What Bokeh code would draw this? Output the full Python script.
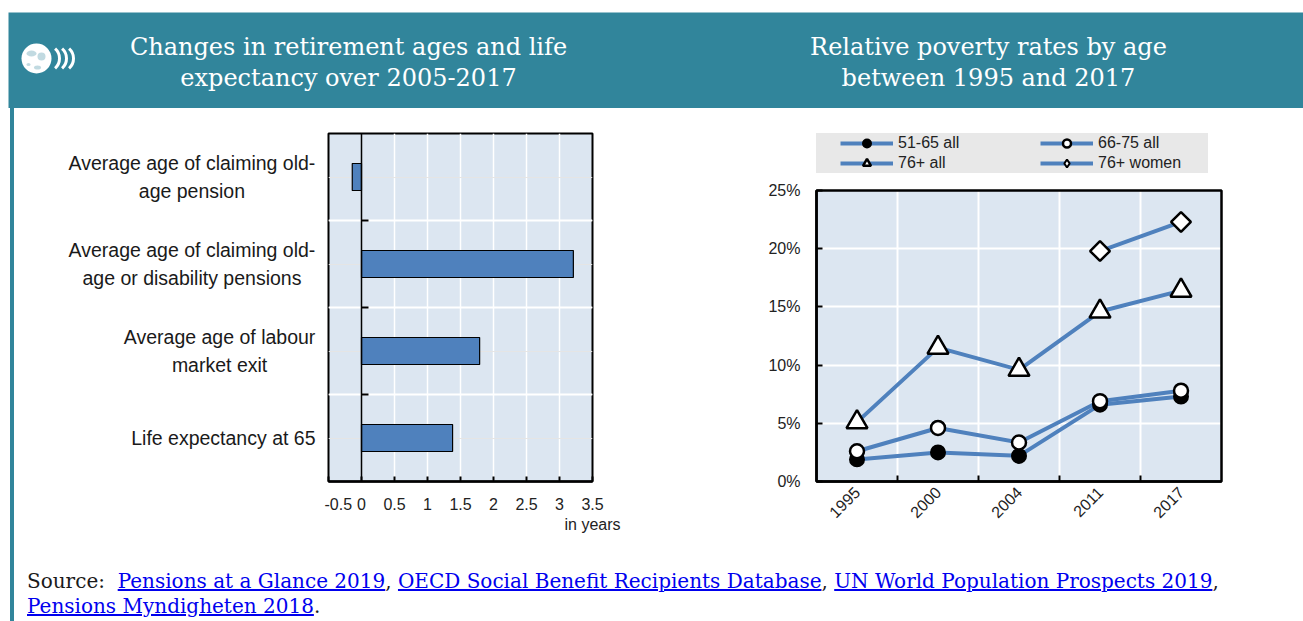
import math
import numpy as np
from bokeh.plotting import figure
from bokeh.layouts import column, row
from bokeh.models import (Range1d, LinearAxis, FixedTicker, Legend, LegendItem, Div,
                          PrintfTickFormatter, Grid)
from bokeh.core.properties import value
from bokeh.embed import file_html
from bokeh.resources import INLINE

# ---------------- data ----------------
bar_categories = ["Average age of claiming old-\nage pension",
                  "Average age of claiming old-\nage or disability pensions",
                  "Average age of labour\nmarket exit",
                  "Life expectancy at 65"]
bar_values = [-0.14, 3.21, 1.79, 1.38]
bar_ticks = [-0.5, 0, 0.5, 1, 1.5, 2, 2.5, 3, 3.5]
bar_tick_labels = ["-0.5", "0", "0.5", "1", "1.5", "2", "2.5", "3", "3.5\nin years"]

years = ["1995", "2000", "2004", "2011", "2017"]
pov_51_65 = [1.9, 2.5, 2.2, 6.6, 7.3]
pov_66_75 = [2.6, 4.6, 3.35, 6.9, 7.8]
pov_76_all = [5.1, 11.5, 9.6, 14.6, 16.4]
pov_76_women = [None, None, None, 19.8, 22.3]
pct_ticks = [0, 5, 10, 15, 20, 25]
series_names = ["51-65 all", "66-75 all", "76+ all", "76+ women"]

title_left = "Changes in retirement ages and life\nexpectancy over 2005-2017"
title_right = "Relative poverty rates by age\nbetween 1995 and 2017"

# ---------------- styles ----------------
TEAL = "#31859B"
PLOTBG = "#DCE6F1"
BLUE = "#4F81BD"
LEGBG = "#E8E8E8"
SANS = "Liberation Sans"
SERIF = "DejaVu Serif"
TOP_B, BOT_B = 25, 79          # shared frame borders of the middle row
FRAME_H = 452 - TOP_B - BOT_B  # 348 px
PCT_H = 291                    # px height of the 0-25% box
Y_TOP = pct_ticks[-1] * FRAME_H / PCT_H

ARIAL = {' ': 278, 'A': 667, 'L': 556, 'a': 556, 'b': 556, 'c': 500, 'd': 556, 'e': 556,
         'f': 278, 'g': 556, 'i': 222, 'k': 500, 'l': 222, 'm': 833, 'n': 556, 'o': 556,
         'p': 556, 'r': 333, 's': 500, 't': 278, 'u': 556, 'v': 500, 'x': 500, 'y': 500,
         '-': 333, '5': 556, '6': 556}


def text_w(s, size):
    return max(sum(ARIAL.get(c, 556) for c in ln) for ln in s.split("\n")) * size / 1000.0


def bare(fig):
    fig.grid.visible = False
    return fig


# ---------------- header ----------------
hdr = bare(figure(width=1303, height=108, x_range=Range1d(0, 1303), y_range=Range1d(0, 108),
                  toolbar_location=None, output_backend="svg", x_axis_location=None,
                  y_axis_location=None, min_border=0, outline_line_color=None,
                  background_fill_color="white", border_fill_color="white", margin=0))
hdr.quad(left=8, right=1303, bottom=0, top=96, fill_color=TEAL, line_color=None)
hdr.text(x=[348, 988], y=[46, 46], text=[title_left, title_right], text_align="center",
         text_baseline="middle", text_color="white", text_font=value(SERIF),
         text_font_size="24px", text_line_height=1.12)
# OECD logo (globe + chevrons)
hdr.circle(x=[36], y=[50], radius=15, fill_color="white", line_color=None)
hdr.ellipse(x=[31, 41, 37, 28], y=[55, 52, 41, 44], width=[10, 8, 7, 4], height=[6, 8, 4, 3],
            fill_color=TEAL, fill_alpha=0.3, line_color=None)
hdr.arc(x=[46, 53, 60], y=[50, 50, 50], radius=13, start_angle=-0.85, end_angle=0.85,
        line_color="white", line_width=3)

# ---------------- left chart ----------------
y_rng = Range1d(len(bar_categories), 0)
centers = [i + 0.5 for i in range(len(bar_categories))]

labfig = bare(figure(width=310, height=452, x_range=Range1d(0, 310), y_range=y_rng,
                     toolbar_location=None, output_backend="svg", x_axis_location=None,
                     y_axis_location=None, min_border_left=0, min_border_right=0,
                     min_border_top=TOP_B, min_border_bottom=BOT_B, outline_line_color=None,
                     background_fill_color="white", border_fill_color="white", margin=0))
labfig.text(x=[301 - text_w(s, 19.5) / 2 for s in bar_categories], y=centers,
            text=bar_categories, text_align="center", text_baseline="middle",
            text_font=value(SANS), text_font_size="19.5px", text_line_height=1.3,
            text_color="#1a1a1a")

pL = figure(width=316, height=452, x_range=Range1d(-0.5, 3.5), y_range=y_rng,
            toolbar_location=None, output_backend="svg", y_axis_location=None,
            min_border_left=4, min_border_right=48, min_border_top=TOP_B,
            min_border_bottom=BOT_B, background_fill_color=PLOTBG, border_fill_color="white",
            outline_line_color="black", outline_line_width=2, margin=0)
pL.xgrid.ticker = FixedTicker(ticks=[t for t in bar_ticks if t not in (-0.5, 0, 3.5)])
pL.xgrid.grid_line_color = "white"
pL.xgrid.grid_line_width = 1.5
pL.add_layout(Grid(dimension=1, ticker=FixedTicker(ticks=[1, 2, 3]),
                   grid_line_color="white", grid_line_width=2))

xa = pL.xaxis[0]
xa.ticker = FixedTicker(ticks=bar_ticks)
xa.major_label_overrides = dict(zip(bar_ticks, bar_tick_labels))
xa.axis_line_color = "black"
xa.axis_line_width = 2.5
xa.major_tick_in = 5
xa.major_tick_out = 0
xa.major_tick_line_width = 2
xa.minor_tick_line_color = None
xa.major_label_standoff = 14
xa.major_label_text_font = SANS
xa.major_label_text_font_size = "16px"
xa.major_label_text_color = "#222222"

zero_ax = LinearAxis(fixed_location=0, ticker=FixedTicker(ticks=[1, 2, 3]),
                     major_label_overrides={1: "", 2: "", 3: ""},
                     axis_line_color="black", axis_line_width=1.5,
                     major_tick_in=0, major_tick_out=7, major_tick_line_width=2,
                     minor_tick_line_color=None)
pL.add_layout(zero_ax, "right")

pL.hbar(y=centers, left=0, right=bar_values, height=0.31, fill_color=BLUE,
        line_color="black", line_width=1.2)

# ---------------- right chart ----------------
xs = [i + 0.5 for i in range(len(years))]
pR = figure(width=663, height=452, x_range=Range1d(0, len(years)), y_range=Range1d(0, Y_TOP),
            toolbar_location=None, output_backend="svg",
            min_border_left=176, min_border_right=82, min_border_top=TOP_B,
            min_border_bottom=BOT_B, background_fill_color="white", border_fill_color="white",
            outline_line_color=None, margin=0)
pR.quad(left=0, right=len(years), bottom=0, top=pct_ticks[-1], fill_color=PLOTBG,
        line_color=None, level="image")
pR.xgrid.ticker = FixedTicker(ticks=list(range(1, len(years))))
pR.ygrid.ticker = FixedTicker(ticks=pct_ticks[1:-1])
for g in (pR.xgrid, pR.ygrid):
    g.grid_line_color = "white"
    g.grid_line_width = 2

ax = pR.xaxis[0]
ax.ticker = FixedTicker(ticks=xs, minor_ticks=list(range(1, len(years))))
ax.major_label_overrides = dict(zip(xs, years))
ax.major_label_orientation = math.pi / 4
ax.major_tick_in = 0
ax.major_tick_out = 0
ax.minor_tick_in = 6
ax.minor_tick_out = 0
ax.minor_tick_line_color = "black"
ax.minor_tick_line_width = 2
ax.axis_line_width = 2.5
ax.major_label_standoff = 8
ax.major_label_text_font = SANS
ax.major_label_text_font_size = "16px"
ax.major_label_text_color = "#222222"

ay = pR.yaxis[0]
ay.ticker = FixedTicker(ticks=pct_ticks)
ay.bounds = (pct_ticks[0], pct_ticks[-1])
ay.formatter = PrintfTickFormatter(format="%d%%")
ay.major_tick_in = 6
ay.major_tick_out = 0
ay.major_tick_line_width = 2
ay.minor_tick_line_color = None
ay.axis_line_width = 2.5
ay.major_label_standoff = 16
ay.major_label_text_font = SANS
ay.major_label_text_font_size = "16px"
ay.major_label_text_color = "#222222"

series = [np.array(s, dtype=float) for s in (pov_51_65, pov_66_75, pov_76_all, pov_76_women)]
line_rs = [pR.line(xs, s, line_color=BLUE, line_width=4) for s in series]
mk = [
    pR.scatter(xs, series[0], marker="circle", size=14, fill_color="black",
               line_color="black", line_width=2),
    pR.scatter(xs, series[1], marker="circle", size=14, fill_color="white",
               line_color="black", line_width=2.5),
    pR.scatter(xs, series[2], marker="triangle", size=21, fill_color="white",
               line_color="black", line_width=2.5),
    pR.scatter(xs, series[3], marker="square", angle=math.pi / 4, size=14,
               fill_color="white", line_color="black", line_width=2.5),
]
# legend swatch for the diamond series (the legend ignores marker angle);
# its single point is NaN so nothing is drawn in the plot area
diamond_key = pR.scatter(x=[float("nan")], y=[float("nan")], marker="diamond", size=14,
                         fill_color="white", line_color="black", line_width=2)
# plot-area border (0-25% box)
pR.quad(left=0, right=len(years), bottom=0, top=pct_ticks[-1], fill_color=None,
        line_color="black", line_width=2.5, level="overlay")

legend_marks = [mk[0], mk[1], mk[2], diamond_key]
items = [LegendItem(label=n, renderers=[l, m])
         for n, l, m in zip(series_names, line_rs, legend_marks)]
leg_common = dict(orientation="vertical", background_fill_color=LEGBG,
                  background_fill_alpha=1, border_line_color=None, padding=0, margin=0,
                  spacing=0, glyph_width=53, glyph_height=20, label_height=20,
                  label_standoff=5, label_text_font=SANS, label_text_font_size="16px",
                  label_text_color="#222222")
# two columns of the legend: (51-65, 76+ all) and (66-75, 76+ women)
legend_a = Legend(items=[items[0], items[2]], location=(-10, 308), label_width=142,
                  title=" ", title_location="left", title_standoff=33,
                  title_text_font_size="1px", **leg_common)
legend_b = Legend(items=[items[1], items[3]], location=(224, 308), label_width=110,
                  **leg_common)
pR.add_layout(legend_a)
pR.add_layout(legend_b)

# ---------------- footer + stripe ----------------
link = 'style="color:#0000EE;text-decoration:underline"'
footer_html = (
    f'<div style="padding:9px 0 0 13px;font-family:\'{SERIF}\';font-size:20px;'
    f'line-height:25px;color:#1a1a1a;white-space:nowrap">'
    f'Source:&nbsp; <a {link} href="#">Pensions at a Glance 2019</a>, '
    f'<a {link} href="#">OECD Social Benefit Recipients Database</a>, '
    f'<a {link} href="#">UN World Population Prospects 2019</a>,<br>'
    f'<a {link} href="#">Pensions Myndigheten 2018</a>.</div>')
footer = Div(text=footer_html, width=1289, height=61, margin=0)
stripe = Div(text="", width=14, height=513, margin=0,
             styles={"background": f"linear-gradient(to right, #ffffff 0px, #ffffff 10px, {TEAL} 10px, {TEAL} 14px)"})

layout = column(hdr,
                row(stripe, column(row(labfig, pL, pR, spacing=0), footer, spacing=0), spacing=0),
                spacing=0)

open("out.html", "w").write(file_html(layout, INLINE))
